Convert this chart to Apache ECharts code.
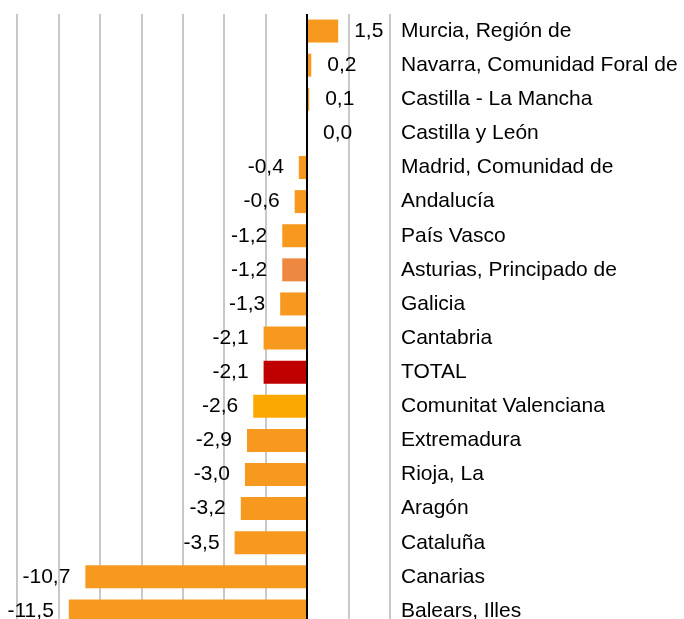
<!DOCTYPE html>
<html>
<head>
<meta charset="utf-8">
<script src="https://cdn.jsdelivr.net/npm/echarts@6/dist/echarts.min.js"></script>
<style>html,body{margin:0;padding:0;background:#fff;}#c{width:684px;height:619px;}</style>
</head>
<body>
<div id="c"></div>
<script>
var categories = ["Murcia, Región de","Navarra, Comunidad Foral de","Castilla - La Mancha","Castilla y León","Madrid, Comunidad de","Andalucía","País Vasco","Asturias, Principado de","Galicia","Cantabria","TOTAL","Comunitat Valenciana","Extremadura","Rioja, La","Aragón","Cataluña","Canarias","Balears, Illes"];
var values = [1.5,0.2,0.1,0.0,-0.4,-0.6,-1.2,-1.2,-1.3,-2.1,-2.1,-2.6,-2.9,-3.0,-3.2,-3.5,-10.7,-11.5];
var colors = ["#F7991F","#F7991F","#F7991F","#F7991F","#F7991F","#F7991F","#F7991F","#ED8841","#F7991F","#F7991F","#C00000","#FBA800","#F7991F","#F7991F","#F7991F","#F7991F","#F7991F","#F7991F"];

var FONT = "Liberation Sans";
var FS = 21;
var chart = echarts.init(document.getElementById('c'), null, {renderer:'canvas'});
var data = values.map(function(v,i){
  return {
    value: v,
    itemStyle: {color: colors[i]},
    label: {position: v < 0 ? 'left' : 'right', distance: v < 0 ? 15 : 16}
  };
});
chart.setOption({
  animation: false,
  grid: {left: 17, right: 294, top: 14, bottom: -9, containLabel: false, outerBoundsMode: 'none'},
  xAxis: {
    type: 'value', min: -14, max: 4, interval: 2,
    axisLabel: {show: false}, axisTick: {show: false}, axisLine: {show: false},
    splitLine: {show: true, lineStyle: {color: '#C8C8C8', width: 2}}
  },
  yAxis: {
    type: 'category', data: categories, inverse: true, position: 'right',
    axisLine: {show: false}, axisTick: {show: false},
    axisLabel: {align: 'left', margin: 11, color: '#000', fontFamily: FONT, fontSize: FS}
  },
  series: [{
    type: 'bar', data: data, barWidth: 23,
    label: {show: true, color: '#000', fontFamily: FONT, fontSize: FS,
      formatter: function(p){ return p.value.toFixed(1).replace('.', ','); }},
    markLine: {
      silent: true, symbol: 'none', label: {show: false},
      lineStyle: {color: '#000', width: 2, type: 'solid'},
      data: [{xAxis: 0}]
    }
  }]
});
</script>
</body>
</html>
